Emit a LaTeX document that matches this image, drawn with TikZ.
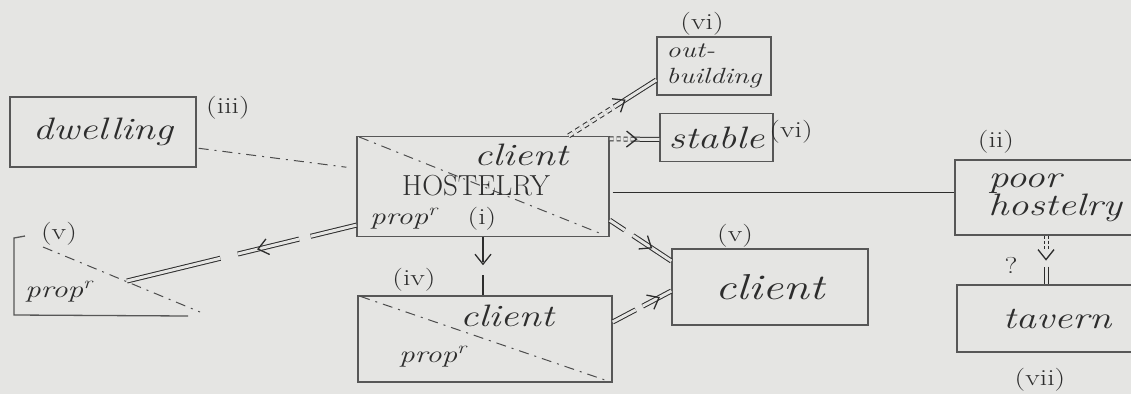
\documentclass[tikz,border=0pt]{standalone}
\usepackage{graphicx}
\usetikzlibrary{decorations.markings}

\definecolor{paper}{RGB}{229,229,227}
\definecolor{pencil}{RGB}{45,45,45}
% wide hand lettering
\newcommand{\hand}[1]{\scalebox{1.3}[1]{#1}}

\tikzset{every picture/.style={line width=1.3pt}}
\tikzset{
  box/.style={draw=pencil!80, rectangle, inner sep=0pt, text=pencil},
  word/.style={text=pencil, inner sep=0pt, font=\fontsize{31}{28}\selectfont\itshape},
  smallword/.style={text=pencil, inner sep=0pt, font=\fontsize{24}{26}\selectfont\itshape},
  tag/.style={text=pencil, inner sep=0pt, font=\fontsize{23}{24}\selectfont},
  crossline/.style={draw=pencil!85, line width=1pt, dash pattern=on 10pt off 6pt on 2pt off 6pt},
  twin/.style={draw=pencil, double=paper, double distance=3pt, line width=1pt},
  chev/.style={decoration={markings, mark=at position #1 with {\draw[pencil, solid, line width=1.3pt] (-8pt,-8pt) -- (2pt,0pt) -- (-8pt,8pt);}}, postaction={decorate}},
}

\begin{document}
\begin{tikzpicture}[x=1pt,y=1pt,yscale=-1,xscale=1]
\clip (0,0) rectangle (1131,394);
\fill[paper] (0,0) rectangle (1131,394);

%Shape: Rectangle (iii)
\node[box, word, minimum width=186pt, minimum height=70pt] (dwelling) at (103,132) {\hand{dwelling}};
% Text Node
\node[tag] (tagiii) at (228,108) {\hand{(iii)}};

%Shape: Rectangle (i)
\node[box, minimum width=252pt, minimum height=100pt] (hostelry) at (483,186.5) {};
\draw[crossline, shorten <=3pt, shorten >=10pt] (hostelry.north west) -- (hostelry.south east);
% Text Node
\node[word] (hclient) at (521,155) {\hand{client}};
% Text Node
\node[text=pencil, inner sep=0pt, font=\fontsize{29}{30}\selectfont] (hname) at (476,186) {HOSTELRY};
% Text Node
\node[smallword] (hprop) at (404,219) {\hand{prop\textsuperscript{r}}};
% Text Node
\node[tag] (tagi) at (482,219) {\hand{(i)}};

%Shape: Rectangle (iv)
\node[box, minimum width=254pt, minimum height=86pt] (lower) at (485,339) {};
\draw[crossline, shorten <=3pt, shorten >=6pt] (lower.north west) -- (lower.south east);
% Text Node
\node[tag] (tagiv) at (414,280) {\hand{(iv)}};
% Text Node
\node[word] (lclient) at (507,316) {\hand{client}};
% Text Node
\node[smallword] (lprop) at (433,357) {\hand{prop\textsuperscript{r}}};

%Shape: Rectangle (v)
\node[box, word, font=\fontsize{36}{30}\selectfont\itshape, minimum width=196pt, minimum height=76pt] (client) at (770,287) {\hand{client}};
% Text Node
\node[tag] (tagvb) at (735,236) {\hand{(v)}};

%Shape: Rectangle (vi)
\node[box, text=pencil, font=\fontsize{22}{26}\selectfont\itshape, align=left, minimum width=114pt, minimum height=58pt] (outb) at (714,66) {\hand{out-}\\\hand{building}};
% Text Node
\node[tag] (tagvia) at (702,24) {\hand{(vi)}};

%Shape: Rectangle (vi)
\node[box, word, minimum width=113pt, minimum height=48pt] (stable) at (716.5,137.5) {\hand{stable}};
% Text Node
\node[tag] (tagvib) at (791,132) {\hand{(vi)}};

%Shape: Rectangle (ii)
\node[box, word, align=left, minimum width=200pt, minimum height=75pt] (poor) at (1055,197.5) {\hand{poor}\\\hand{hostelry}};
% Text Node
\node[tag] (tagii) at (996,142) {\hand{(ii)}};

%Shape: Rectangle (vii)
\node[box, word, minimum width=200pt, minimum height=67pt] (tavern) at (1057,318.5) {\hand{tavern}};
% Text Node
\node[tag] (tagvii) at (1040,380) {\hand{(vii)}};
% Text Node
\node[tag] (query) at (1011,265) {\hand{?}};

%Shape: cut box (v), left
\draw[pencil!80] (25,236) -- (14,238) -- (14,315) -- (188,316);
\draw[crossline] (43,247) -- (200,312);
\coordinate (tri) at (127,281);
% Text Node
\node[tag] (tagva) at (59,234) {\hand{(v)}};
% Text Node
\node[smallword] (tprop) at (59,292) {\hand{prop\textsuperscript{r}}};

%Straight Lines
\draw[crossline, shorten <=2pt, shorten >=10pt] ([yshift=16pt]dwelling.east) -- ([yshift=-18pt]hostelry.west);
\draw[twin, chev=0.42, dash pattern=on 47pt off 12pt on 63pt off 18pt on 130pt] ([yshift=-12pt]hostelry.south west) -- (tri);
\draw[pencil, chev=0.43, dash pattern=on 25pt off 13pt on 40pt] (hostelry.south) -- (hostelry.south |- lower.north);
\draw[twin, chev=0.65, dash pattern=on 18pt off 10pt on 60pt] ([yshift=-17pt]hostelry.south east) -- ([yshift=-26pt]client.west);
\draw[twin, chev=0.76, dash pattern=on 26pt off 8pt on 50pt] ([yshift=-17pt]lower.east) -- ([yshift=4pt]client.west);
\draw[twin, chev=0.5, dash pattern=on 4pt off 3pt on 4pt off 3pt on 4pt off 3pt on 40pt] ([yshift=3pt]hostelry.north east) -- ([yshift=2pt]stable.west);
\draw[twin, chev=0.62, dash pattern=on 5pt off 4pt on 5pt off 4pt on 5pt off 4pt on 5pt off 4pt on 5pt off 4pt on 5pt off 4pt on 60pt] ([xshift=-41pt]hostelry.north east) -- ([yshift=14pt]outb.west);
\draw[pencil, shorten <=3pt] ([yshift=6pt]hostelry.east) -- ([yshift=-5pt]poor.west);
\draw[twin, chev=0.45, dash pattern=on 3pt off 2pt on 3pt off 2pt on 3pt off 18pt on 30pt] ([xshift=-9pt]poor.south) -- ([xshift=-11pt]tavern.north);

\end{tikzpicture}
\end{document}
